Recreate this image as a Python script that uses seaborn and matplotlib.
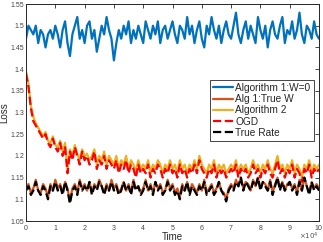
import numpy as np
import pandas as pd
import seaborn as sns
import matplotlib
matplotlib.use("Agg")
import matplotlib.pyplot as plt
from matplotlib.ticker import ScalarFormatter

# ---- data ----
alg1_w0 = [1.47,1.50,1.49,1.48,1.50,1.46,1.49,1.48,1.45,1.48,1.49,1.47,1.50,1.48,1.45,1.49,1.51,1.46,1.43,1.48,
           1.50,1.52,1.47,1.49,1.46,1.50,1.51,1.47,1.49,1.44,1.47,1.50,1.48,1.52,1.49,1.47,1.42,1.46,1.49,1.47,
           1.50,1.48,1.51,1.46,1.49,1.47,1.50,1.48,1.46,1.51,1.49,1.47,1.50,1.48,1.51,1.46,1.49,1.50,1.47,1.49,
           1.51,1.48,1.46,1.50,1.49,1.47,1.52,1.48,1.50,1.46,1.49,1.51,1.47,1.45,1.50,1.48,1.52,1.49,1.47,1.50,
           1.46,1.49,1.51,1.48,1.47,1.50,1.53,1.48,1.46,1.49,1.51,1.47,1.50,1.48,1.46,1.52,1.49,1.47,1.50,1.45,
           1.49,1.51,1.48,1.47,1.50,1.52,1.46,1.49,1.48,1.51,1.47,1.49,1.53,1.48,1.46,1.50,1.49,1.47,1.51,1.48,1.47]

alg1_true = [1.125,1.135,1.115,1.125,1.145,1.12,1.115,1.135,1.125,1.105,1.135,1.12,1.145,1.125,1.135,1.115,1.14,1.125,1.095,1.125,
             1.135,1.115,1.145,1.125,1.135,1.12,1.14,1.115,1.135,1.125,1.145,1.13,1.115,1.135,1.12,1.145,1.125,1.135,1.115,1.125,
             1.14,1.12,1.135,1.115,1.145,1.125,1.13,1.115,1.125,1.145,1.12,1.135,1.115,1.14,1.125,1.135,1.115,1.12,1.145,1.125,
             1.135,1.115,1.125,1.105,1.135,1.12,1.14,1.115,1.135,1.125,1.115,1.135,1.12,1.145,1.115,1.125,1.135,1.115,1.125,1.14,
             1.12,1.115,1.10,1.125,1.135,1.125,1.145,1.13,1.15,1.125,1.14,1.135,1.12,1.145,1.13,1.15,1.125,1.14,1.135,1.12,
             1.145,1.115,1.135,1.15,1.125,1.14,1.12,1.135,1.14,1.125,1.135,1.115,1.145,1.12,1.15,1.13,1.115,1.14,1.125,1.135,1.125]

alg2 = [1.395,1.365,1.315,1.29,1.275,1.265,1.255,1.245,1.255,1.235,1.23,1.245,1.225,1.22,1.235,1.21,1.23,1.17,1.215,1.2,
        1.225,1.205,1.19,1.215,1.2,1.205,1.19,1.2,1.215,1.18,1.2,1.19,1.21,1.18,1.2,1.19,1.18,1.2,1.17,1.19,
        1.18,1.2,1.17,1.19,1.18,1.165,1.19,1.17,1.18,1.17,1.19,1.16,1.18,1.17,1.19,1.18,1.16,1.18,1.17,1.19,
        1.17,1.18,1.16,1.19,1.17,1.18,1.16,1.18,1.17,1.19,1.17,1.2,1.18,1.17,1.16,1.18,1.17,1.19,1.16,1.18,
        1.17,1.18,1.16,1.17,1.18,1.17,1.19,1.16,1.18,1.17,1.18,1.16,1.17,1.19,1.17,1.18,1.16,1.18,1.17,1.19,
        1.17,1.16,1.18,1.2,1.17,1.18,1.16,1.18,1.17,1.19,1.16,1.18,1.17,1.15,1.18,1.17,1.19,1.16,1.18,1.17,1.18]

ogd = [1.39,1.36,1.31,1.28,1.27,1.26,1.25,1.24,1.25,1.23,1.22,1.24,1.22,1.21,1.23,1.20,1.22,1.16,1.21,1.19,
       1.22,1.20,1.18,1.21,1.19,1.20,1.18,1.19,1.21,1.17,1.19,1.18,1.20,1.17,1.19,1.18,1.17,1.19,1.16,1.18,
       1.17,1.19,1.16,1.18,1.17,1.15,1.18,1.16,1.17,1.16,1.18,1.15,1.17,1.16,1.18,1.17,1.15,1.17,1.16,1.18,
       1.16,1.17,1.15,1.18,1.16,1.17,1.15,1.17,1.16,1.18,1.16,1.19,1.17,1.16,1.15,1.17,1.16,1.18,1.15,1.17,
       1.16,1.17,1.15,1.16,1.17,1.16,1.18,1.15,1.17,1.16,1.17,1.15,1.16,1.18,1.16,1.17,1.15,1.17,1.16,1.18,
       1.16,1.15,1.17,1.19,1.16,1.17,1.15,1.17,1.16,1.18,1.15,1.17,1.16,1.14,1.17,1.16,1.18,1.15,1.17,1.16,1.17]

true_rate = [1.12,1.13,1.11,1.12,1.14,1.12,1.11,1.13,1.12,1.10,1.13,1.12,1.14,1.12,1.13,1.11,1.14,1.12,1.09,1.12,
             1.13,1.11,1.14,1.12,1.13,1.12,1.14,1.11,1.13,1.12,1.14,1.13,1.11,1.13,1.12,1.14,1.12,1.13,1.11,1.12,
             1.14,1.12,1.13,1.11,1.14,1.12,1.13,1.11,1.12,1.14,1.12,1.13,1.11,1.14,1.12,1.13,1.11,1.12,1.14,1.12,
             1.13,1.11,1.12,1.10,1.13,1.12,1.14,1.11,1.13,1.12,1.11,1.13,1.12,1.14,1.11,1.12,1.13,1.11,1.12,1.14,
             1.12,1.11,1.095,1.12,1.13,1.12,1.14,1.13,1.15,1.12,1.14,1.13,1.12,1.14,1.13,1.15,1.12,1.14,1.13,1.12,
             1.14,1.11,1.13,1.15,1.12,1.14,1.12,1.13,1.14,1.12,1.13,1.11,1.14,1.12,1.15,1.13,1.11,1.14,1.12,1.13,1.12]

labels = ["Algorithm 1:W=0", "Alg 1:True W", "Algorithm 2", "OGD", "True Rate"]
colors = ["#0072BD", "#D95319", "#EDB120", "#FF0000", "#000000"]
styles = ["-", "-", "-", "--", "--"]
series = [alg1_w0, alg1_true, alg2, ogd, true_rate]
t_max = 100000

sns.set_theme(style="white")
plt.rcParams['font.family'] = ['Liberation Sans', 'DejaVu Sans']

fig = plt.figure(figsize=(3.23, 2.42), dpi=100)
ax = fig.add_axes([26/323, 21/242, 293/323, 217/242])

for lab, col, ls, ys in zip(labels, colors, styles, series):
    df = pd.DataFrame({"Time": np.linspace(0, t_max, len(ys)), "Loss": ys})
    sns.lineplot(data=df, x="Time", y="Loss", ax=ax, color=col, linestyle=ls,
                 linewidth=1.6, label=lab)

ax.set_xlim(0, t_max)
ax.set_ylim(1.05, 1.55)
ax.set_xticks(np.arange(0, t_max + 1, 10000))
ax.set_yticks(np.arange(1.05, 1.551, 0.05))
ax.set_yticklabels(["1.05", "1.1", "1.15", "1.2", "1.25", "1.3", "1.35", "1.4", "1.45", "1.5", "1.55"])
fmt = ScalarFormatter(useMathText=True)
fmt.set_powerlimits((4, 4))
ax.xaxis.set_major_formatter(fmt)
ax.xaxis.get_offset_text().set_visible(False)
ax.text(0.998, -0.045, r"$\times10^{4}$", transform=ax.transAxes, ha="right", va="top",
        fontsize=5, color="#555555")

ax.tick_params(direction="in", length=3, width=0.6, labelsize=5, colors="#262626",
               top=True, right=True, pad=1.5)
ax.tick_params(axis="x", labelcolor="#444444")
ax.tick_params(axis="y", labelcolor="#444444")
for sp in ax.spines.values():
    sp.set_color("#262626")
    sp.set_linewidth(0.7)

ax.set_xlabel("Time", fontsize=7, labelpad=0, color="#262626")
ax.set_ylabel("Loss", fontsize=7, labelpad=1, color="#262626")

leg = ax.legend(loc="upper left", bbox_to_anchor=((210 - 26) / 293, (221 - 80) / 217), fontsize=7.3,
                frameon=True, fancybox=False, framealpha=1, edgecolor="#262626",
                handlelength=2.0, handletextpad=0.2, borderpad=0.3, labelspacing=0.12,
                borderaxespad=0)
leg.get_frame().set_linewidth(0.6)

fig.savefig("out.png", dpi=100)
